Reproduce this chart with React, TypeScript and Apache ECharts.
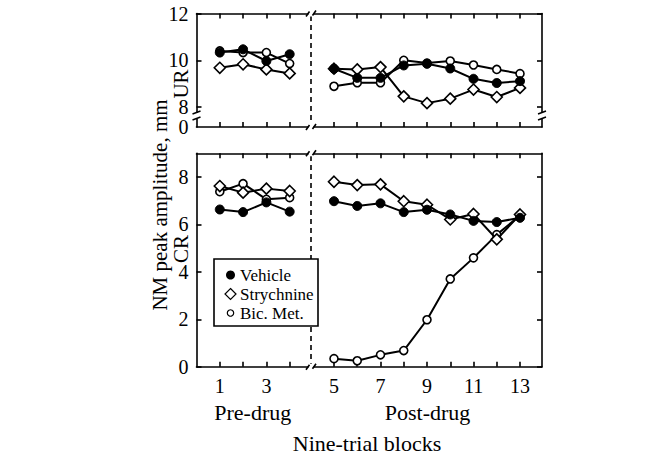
import React, { useEffect, useRef } from "react";
import * as echarts from "echarts";

const preBlocks = [1, 2, 3, 4];
const postBlocks = [5, 6, 7, 8, 9, 10, 11, 12, 13];

const urVehiclePre = [10.33, 10.47, 9.97, 10.26];
const urStrychninePre = [9.68, 9.83, 9.61, 9.44];
const urBicMetPre = [10.4, 10.33, 10.33, 9.86];
const urVehiclePost = [9.64, 9.25, 9.25, 9.78, 9.85, 9.65, 9.21, 9.03, 9.11];
const urStrychninePost = [9.64, 9.61, 9.71, 8.46, 8.17, 8.36, 8.75, 8.43, 8.82];
const urBicMetPost = [8.89, 9.04, 9.04, 10.0, 9.88, 9.97, 9.8, 9.61, 9.43];

const crVehiclePre = [6.63, 6.52, 6.93, 6.54];
const crStrychninePre = [7.62, 7.34, 7.51, 7.41];
const crBicMetPre = [7.38, 7.72, 7.06, 7.13];
const crVehiclePost = [6.98, 6.78, 6.89, 6.52, 6.62, 6.42, 6.15, 6.1, 6.28];
const crStrychninePost = [7.8, 7.66, 7.69, 6.98, 6.83, 6.21, 6.44, 5.37, 6.42];
const crBicMetPost = [0.34, 0.25, 0.5, 0.68, 1.98, 3.7, 4.59, 5.57, 6.38];

const seriesNames = ["Vehicle", "Strychnine", "Bic. Met."];
const preTickLabels = [1, 3];
const postTickLabels = [5, 7, 9, 11, 13];
const urTickLabels = [8, 10, 12];
const crTickLabels = [0, 2, 4, 6, 8];
const urBreakMin = 7.15;

const FONT = "Liberation Serif";

const styles: any = {
  Vehicle: { symbol: "circle", symbolSize: 9, itemStyle: { color: "#000", borderColor: "#000", borderWidth: 1 } },
  Strychnine: { symbol: "diamond", symbolSize: 11, itemStyle: { color: "#fff", borderColor: "#000", borderWidth: 1.6 } },
  "Bic. Met.": { symbol: "circle", symbolSize: 8, itemStyle: { color: "#fff", borderColor: "#000", borderWidth: 1.6 } },
};

function mk(name: string, xs: number[], ys: number[], axisIdx: number, z: number) {
  const s = styles[name];
  return {
    type: "line",
    name,
    xAxisIndex: axisIdx * 2,
    yAxisIndex: axisIdx,
    data: xs.map((x, i) => [x, ys[i]]),
    symbol: s.symbol,
    symbolSize: s.symbolSize,
    showAllSymbol: true,
    itemStyle: s.itemStyle,
    lineStyle: { color: "#000", width: 2 },
    z,
  };
}

export default function App() {
  const ref = useRef<HTMLDivElement>(null);
  useEffect(() => {
    if (!ref.current) return;
    const chart = echarts.init(ref.current, undefined, { renderer: "svg" });

    const axisLine = { show: true, lineStyle: { color: "#000", width: 1.6 } };
    const tickStyle = { color: "#000", width: 1.6 };
    const labelStyle = { color: "#000", fontFamily: FONT, fontSize: 20 };

    const gridDefs = [
      { left: 196.5, top: 13.5, width: 112.5, height: 113.5 },
      { left: 313, top: 13.5, width: 229, height: 113.5 },
      { left: 196.5, top: 153.3, width: 112.5, height: 213.4 },
      { left: 313, top: 153.3, width: 229, height: 213.4 },
    ];
    const xRanges = [
      [0, 4.83],
      [4.097, 13.946],
      [0, 4.83],
      [4.097, 13.946],
    ];
    const xTicks = [preBlocks, postBlocks, preBlocks, postBlocks];
    const xLabels = [null, null, preTickLabels, postTickLabels];
    const xNames = ["", "", "Pre-drug", "Post-drug"];

    const xAxis: any[] = [];
    gridDefs.forEach((_, g) => {
      xAxis.push({
        type: "value",
        gridIndex: g,
        position: "bottom",
        min: xRanges[g][0],
        max: xRanges[g][1],
        axisLine,
        axisTick: { show: true, inside: true, length: 5, lineStyle: tickStyle, customValues: xTicks[g] },
        axisLabel: xLabels[g]
          ? { show: true, ...labelStyle, margin: 9, customValues: xLabels[g] }
          : { show: false },
        splitLine: { show: false },
        name: xNames[g],
        nameLocation: "middle",
        nameGap: 35,
        nameTextStyle: { color: "#000", fontFamily: FONT, fontSize: 22 },
      });
      xAxis.push({
        type: "value",
        gridIndex: g,
        position: "top",
        min: xRanges[g][0],
        max: xRanges[g][1],
        axisLine,
        axisTick: { show: true, inside: true, length: 5, lineStyle: tickStyle, customValues: xTicks[g] },
        axisLabel: { show: false },
        splitLine: { show: false },
      });
    });

    const yAxis: any[] = [
      {
        type: "value",
        gridIndex: 0,
        position: "left",
        min: urBreakMin,
        max: 12,
        axisLine,
        axisTick: { show: true, inside: true, length: 5, lineStyle: tickStyle, customValues: urTickLabels },
        axisLabel: {
          show: true,
          ...labelStyle,
          margin: 8,
          customValues: [urBreakMin, ...urTickLabels],
          formatter: (v: number) => (Math.abs(v - urBreakMin) < 0.01 ? "0" : String(v)),
        },
        splitLine: { show: false },
      },
      {
        type: "value",
        gridIndex: 1,
        position: "right",
        min: urBreakMin,
        max: 12,
        axisLine,
        axisTick: { show: true, inside: true, length: 5, lineStyle: tickStyle, customValues: urTickLabels },
        axisLabel: { show: false },
        splitLine: { show: false },
      },
      {
        type: "value",
        gridIndex: 2,
        position: "left",
        min: 0,
        max: 9,
        axisLine,
        axisTick: { show: true, inside: true, length: 5, lineStyle: tickStyle, customValues: crTickLabels },
        axisLabel: { show: true, ...labelStyle, margin: 8, customValues: crTickLabels },
        splitLine: { show: false },
      },
      {
        type: "value",
        gridIndex: 3,
        position: "right",
        min: 0,
        max: 9,
        axisLine,
        axisTick: { show: true, inside: true, length: 5, lineStyle: tickStyle, customValues: crTickLabels },
        axisLabel: { show: false },
        splitLine: { show: false },
      },
    ];

    const series = [
      mk("Vehicle", preBlocks, urVehiclePre, 0, 4),
      mk("Strychnine", preBlocks, urStrychninePre, 0, 3),
      mk("Bic. Met.", preBlocks, urBicMetPre, 0, 2),
      mk("Vehicle", postBlocks, urVehiclePost, 1, 4),
      mk("Strychnine", postBlocks, urStrychninePost, 1, 3),
      mk("Bic. Met.", postBlocks, urBicMetPost, 1, 2),
      mk("Vehicle", preBlocks, crVehiclePre, 2, 4),
      mk("Strychnine", preBlocks, crStrychninePre, 2, 3),
      mk("Bic. Met.", preBlocks, crBicMetPre, 2, 2),
      mk("Vehicle", postBlocks, crVehiclePost, 3, 4),
      mk("Strychnine", postBlocks, crStrychninePost, 3, 3),
      mk("Bic. Met.", postBlocks, crBicMetPost, 3, 2),
    ];

    const blk = { stroke: "#000", lineWidth: 1.6 };
    const dash = { stroke: "#000", lineWidth: 1.6, lineDash: [5, 4] };
    const breakX = (y: number) => [
      { type: "rect", shape: { x: 308.5, y: y - 3, width: 5, height: 6 }, style: { fill: "#fff" }, z: 50 },
      { type: "line", shape: { x1: 306, y1: y + 3, x2: 309.5, y2: y - 2 }, style: blk, z: 51 },
      { type: "line", shape: { x1: 312.5, y1: y + 2, x2: 316, y2: y - 3 }, style: blk, z: 51 },
    ];
    const breakY = (x: number) => [
      { type: "rect", shape: { x: x - 4, y: 113, width: 8, height: 6 }, style: { fill: "#fff" }, z: 50 },
      { type: "line", shape: { x1: x - 4, y1: 114, x2: x + 4, y2: 111 }, style: blk, z: 51 },
      { type: "line", shape: { x1: x - 4, y1: 120, x2: x + 4, y2: 117 }, style: blk, z: 51 },
    ];

    const legendX = 214;
    const legendY = 259;
    const rowY = [275, 294, 313];
    const graphic: any[] = [
      { type: "line", shape: { x1: 311, y1: 16, x2: 311, y2: 127 }, style: dash, z: 40 },
      { type: "line", shape: { x1: 311, y1: 156, x2: 311, y2: 367 }, style: dash, z: 40 },
      ...breakX(13.5),
      ...breakX(127),
      ...breakX(153.3),
      ...breakX(366.7),
      ...breakY(196.5),
      ...breakY(542),
      {
        type: "rect",
        shape: { x: legendX, y: legendY, width: 104, height: 67 },
        style: { fill: "#fff", stroke: "#000", lineWidth: 1.6 },
        z: 60,
      },
      { type: "circle", shape: { cx: 230.5, cy: rowY[0], r: 4.5 }, style: { fill: "#000" }, z: 61 },
      {
        type: "polygon",
        shape: { points: [[230.5, rowY[1] - 5.5], [236, rowY[1]], [230.5, rowY[1] + 5.5], [225, rowY[1]]] },
        style: { fill: "#fff", stroke: "#000", lineWidth: 1.2 },
        z: 61,
      },
      { type: "circle", shape: { cx: 230.5, cy: rowY[2], r: 3.2 }, style: { fill: "#fff", stroke: "#000", lineWidth: 1.2 }, z: 61 },
      ...seriesNames.map((n, i) => ({
        type: "text",
        x: 240,
        y: rowY[i],
        style: { text: n, fill: "#000", font: `17px '${FONT}'`, textVerticalAlign: "middle", textAlign: "left" },
        z: 61,
      })),
      {
        type: "text",
        x: 367,
        y: 443,
        style: { text: "Nine-trial blocks", fill: "#000", font: `22px '${FONT}'`, textAlign: "center", textVerticalAlign: "middle" },
      },
      {
        type: "text",
        x: 160,
        y: 205,
        rotation: Math.PI / 2,
        style: { text: "NM peak amplitude, mm", fill: "#000", font: `21px '${FONT}'`, textAlign: "center", textVerticalAlign: "middle" },
      },
      {
        type: "text",
        x: 181,
        y: 84,
        rotation: Math.PI / 2,
        style: { text: "UR", fill: "#000", font: `21px '${FONT}'`, textAlign: "center", textVerticalAlign: "middle" },
      },
      {
        type: "text",
        x: 181,
        y: 249,
        rotation: Math.PI / 2,
        style: { text: "CR", fill: "#000", font: `21px '${FONT}'`, textAlign: "center", textVerticalAlign: "middle" },
      },
    ];

    chart.setOption({
      animation: false,
      backgroundColor: "#fff",
      grid: gridDefs.map((g) => ({ ...g, containLabel: false })),
      xAxis,
      yAxis,
      series,
      graphic,
    });
    return () => chart.dispose();
  }, []);

  return (
    <div
      ref={ref}
      style={{ position: "fixed", left: 0, top: 0, width: 660, height: 457 }}
    />
  );
}
